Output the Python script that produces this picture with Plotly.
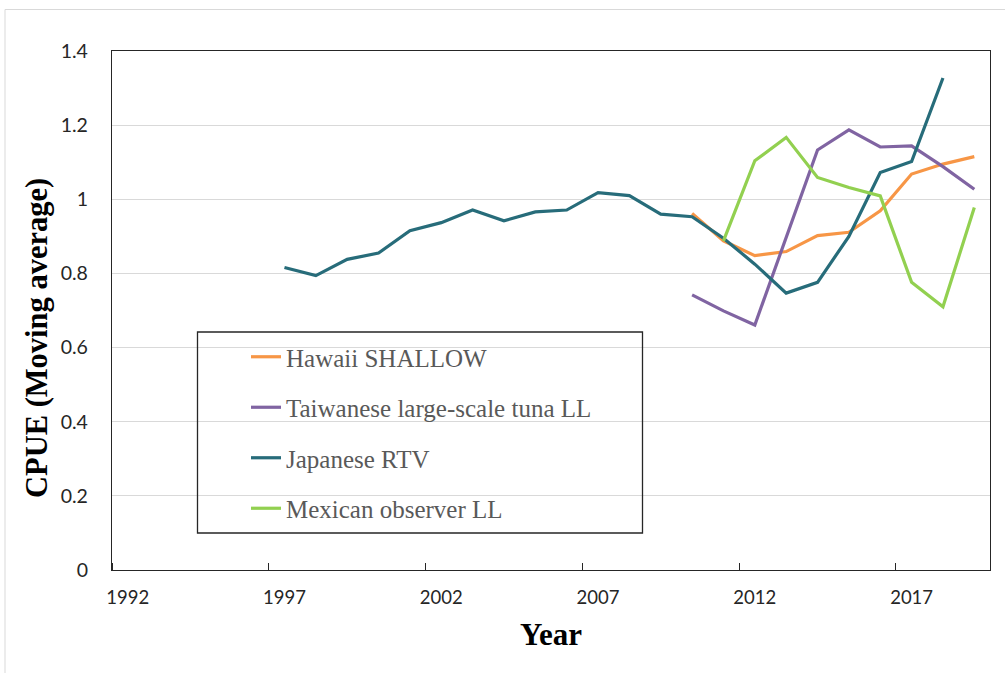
import plotly.graph_objects as go

years = list(range(1992, 2020))

hawaii_years = [2010, 2011, 2012, 2013, 2014, 2015, 2016, 2017, 2018, 2019]
hawaii_vals = [0.962, 0.888, 0.848, 0.859, 0.902, 0.911, 0.969, 1.068, 1.095, 1.115]

taiwan_years = [2010, 2011, 2012, 2013, 2014, 2015, 2016, 2017, 2018, 2019]
taiwan_vals = [0.742, 0.699, 0.661, 0.895, 1.133, 1.187, 1.141, 1.144, 1.088, 1.027]

japan_years = list(range(1997, 2019))
japan_vals = [0.816, 0.794, 0.838, 0.855, 0.915, 0.937, 0.971, 0.942, 0.966, 0.971,
              1.018, 1.010, 0.960, 0.953, 0.895, 0.825, 0.747, 0.776, 0.900, 1.072,
              1.102, 1.327]

mexico_years = [2011, 2012, 2013, 2014, 2015, 2016, 2017, 2018, 2019]
mexico_vals = [0.888, 1.104, 1.167, 1.059, 1.032, 1.009, 0.776, 0.710, 0.978]

series_names = ["Hawaii SHALLOW", "Taiwanese large-scale tuna LL",
                "Japanese RTV", "Mexican observer LL"]
series_colors = ["#F79646", "#8064A2", "#276C7A", "#92D050"]

x_tick_vals = [1992, 1997, 2002, 2007, 2012, 2017]
y_tick_vals = [0, 0.2, 0.4, 0.6, 0.8, 1.0, 1.2, 1.4]

fig = go.Figure()
data = [(hawaii_years, hawaii_vals), (taiwan_years, taiwan_vals),
        (japan_years, japan_vals), (mexico_years, mexico_vals)]
for i, ((xs, ys), name, col) in enumerate(zip(data, series_names, series_colors)):
    fig.add_trace(go.Scatter(x=xs, y=ys, mode="lines", name=name,
                             legendgroup=f"g{i}",
                             line=dict(color=col, width=3.2)))

W, H = 1005, 673
L, R, T, B = 112, 15, 51, 103
pw = W - L - R
ph = H - T - B

def px(xp):
    return (xp - L) / pw

def py(yp):
    return (H - B - yp) / ph

fig.update_layout(
    width=W, height=H,
    margin=dict(l=L, r=R, t=T, b=B, autoexpand=False),
    paper_bgcolor="white", plot_bgcolor="white",
    showlegend=True,
    legend=dict(x=px(246), y=py(334), xanchor="left", yanchor="top",
                bgcolor="rgba(0,0,0,0)", borderwidth=0,
                font=dict(family="Liberation Serif", size=25, color="#595959"),
                tracegroupgap=15, itemwidth=30),
    xaxis=dict(range=[1991.5, 2019.5], tickmode="array", tickvals=x_tick_vals,
               ticks="", showgrid=False, zeroline=False,
               showline=True, linecolor="#262626", linewidth=1.3, mirror=True,
               tickfont=dict(family="Lato", size=18.5, color="#262626"),
               ticklabelstandoff=11,
               minor=dict(tick0=1996.5, dtick=5, ticks="inside", ticklen=7,
                          tickcolor="#262626", tickwidth=1, showgrid=False)),
    yaxis=dict(range=[0, 1.4], tickmode="array", tickvals=y_tick_vals,
               ticks="", showgrid=True, gridcolor="#D9D9D9", gridwidth=1,
               zeroline=False, showline=True, linecolor="#262626", linewidth=1.3,
               mirror=True,
               tickfont=dict(family="Lato", size=19.5, color="#262626"),
               ticklabelstandoff=19),
    shapes=[
        dict(type="rect", xref="paper", yref="paper",
             x0=px(197.5), x1=px(642.5), y0=py(533), y1=py(332),
             line=dict(color="#262626", width=1.3), fillcolor="rgba(0,0,0,0)",
             layer="above"),
        dict(type="rect", xref="paper", yref="paper",
             x0=px(5), x1=px(1012), y0=py(680), y1=py(9.5),
             line=dict(color="#D9D9D9", width=1), fillcolor="rgba(0,0,0,0)",
             layer="below"),
    ],
    annotations=[
        dict(text="<b>CPUE (Moving average)</b>", xref="paper", yref="paper",
             x=px(37), y=py(338), textangle=-90, showarrow=False,
             xanchor="center", yanchor="middle",
             font=dict(family="Liberation Serif", size=30.5, color="black")),
        dict(text="<b>Year</b>", xref="paper", yref="paper",
             x=px(551), y=py(634), showarrow=False,
             xanchor="center", yanchor="middle",
             font=dict(family="Liberation Serif", size=31, color="black")),
    ],
)

fig.write_html("out.html")
